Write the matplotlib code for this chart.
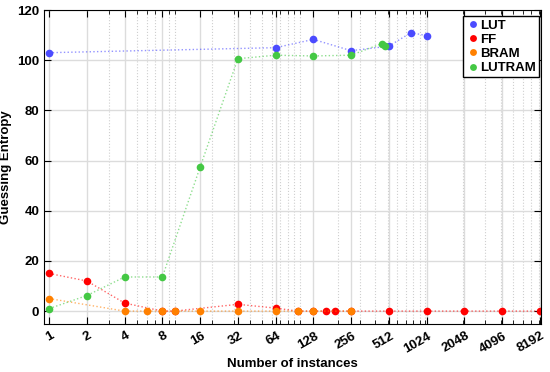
import numpy as np
import matplotlib.pyplot as plt
import matplotlib.transforms as mtransforms
from matplotlib.ticker import FixedLocator, NullFormatter

plt.rcParams['font.family'] = ['Liberation Sans', 'DejaVu Sans']
plt.rcParams['font.weight'] = 'bold'

# data
lut_x = [1, 64, 128, 256, 512, 768, 1024]
lut_y = [103, 105, 108.3, 103.8, 105.6, 111, 109.8]

ff_x = [1, 2, 4, 8, 10, 32, 64, 96, 128, 160, 192, 256, 512, 1024, 2048, 4096, 8192]
ff_y = [15, 12, 3.2, 0, 0, 2.7, 1.2, 0, 0, 0, 0, 0, 0, 0, 0, 0, 0]

bram_x = [1, 4, 6, 8, 10, 16, 32, 64, 96, 128, 256]
bram_y = [5, 0, 0, 0, 0, 0, 0, 0, 0, 0, 0]

lutram_x = [1, 2, 4, 8, 16, 32, 64, 128, 256, 448, 480]
lutram_y = [1, 6.2, 13.6, 13.6, 57.4, 100.6, 102, 101.7, 102, 106.6, 105.8]

xticks = [2 ** k for k in range(14)]

series = [
    ('LUT', lut_x, lut_y, '#4b4bff'),
    ('FF', ff_x, ff_y, '#ff0000'),
    ('BRAM', bram_x, bram_y, '#ff8000'),
    ('LUTRAM', lutram_x, lutram_y, '#44c844'),
]

fig = plt.figure(figsize=(5.5, 3.72), dpi=100)
ax = fig.add_axes([0.08, 0.13, 0.904, 0.843])

for name, xs, ys, c in series:
    ax.plot(xs, ys, ':', color=c, alpha=0.6, lw=1)
    ax.plot(xs, ys, 'o', color=c, ms=5.5, mec='none', label=name)

ax.set_xscale('log')
ax.set_xlim(0.91, 8400)
ax.set_ylim(-5, 120)

ax.xaxis.set_major_locator(FixedLocator(xticks))
ax.xaxis.set_major_formatter(NullFormatter())
# rotated tick labels, anchored at their right end like the original
lab_tr = ax.get_xaxis_transform() + mtransforms.ScaledTranslation(4 / 100, -11.5 / 100, fig.dpi_scale_trans)
for v in xticks:
    ax.text(v, 0, str(v), transform=lab_tr, rotation=30, ha='right', va='center',
            rotation_mode='anchor', fontsize=9.5, fontweight='bold')

minors = [m * 10 ** e for e in range(4) for m in range(1, 10) if m * 10 ** e <= 8192]
ax.xaxis.set_minor_locator(FixedLocator(minors))
ax.xaxis.set_minor_formatter(NullFormatter())
ax.set_yticks(range(0, 121, 20))
for lab in ax.get_yticklabels():
    lab.set_fontsize(9.5)
    lab.set_fontweight('bold')

ax.tick_params(which='both', direction='in', top=True, right=True)
ax.tick_params(which='major', length=5)
ax.tick_params(which='minor', length=3)

ax.grid(which='major', color='#dcdcdc', lw=1, ls='-')
ax.grid(which='minor', axis='x', color='#cfcfcf', lw=0.8, ls=':')
ax.set_axisbelow(True)

ax.set_xlabel('Number of instances', fontsize=9.5, fontweight='bold')
ax.set_ylabel('Guessing Entropy', fontsize=9.5, fontweight='bold')
ax.xaxis.set_label_coords(0.5, -0.108)
ax.yaxis.set_label_coords(-0.064, 0.5)

leg = ax.legend(loc='upper right', bbox_to_anchor=(0.996, 0.981), fancybox=False,
                framealpha=1, edgecolor='black', prop={'weight': 'bold', 'size': 9.5},
                handletextpad=0.05, handlelength=1.0, borderpad=0.25, labelspacing=0.15,
                borderaxespad=0, markerscale=0.9)
leg.get_frame().set_linewidth(1)

fig.savefig('out.png', dpi=100)
